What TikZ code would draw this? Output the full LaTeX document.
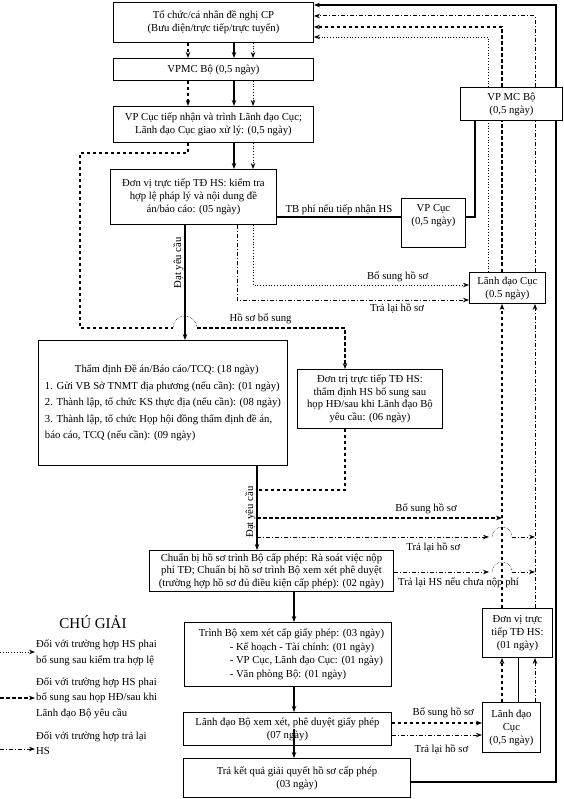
\documentclass[tikz,border=0pt]{standalone}
\usepackage{fontspec}
\setmainfont{Liberation Serif}
\usetikzlibrary{calc,arrows.meta}
\begin{document}
\begin{tikzpicture}[x=1pt,y=1pt]
    \tikzstyle{arrow} = [->,>={Stealth[length=6pt,width=4.5pt]}]
    \tikzstyle{solidline} = [line width=1.2pt]
    \tikzstyle{thinline} = [line width=0.7pt]
    \tikzstyle{dotline} = [dotted, line width=0.8pt]
    \tikzstyle{dashline} = [dash pattern=on 3.5pt off 2.5pt, line width=1.1pt]
    \tikzstyle{dotdash} = [dash pattern=on 4pt off 2pt on 1pt off 2pt, line width=1pt]
    \tikzstyle{hop} = [densely dotted, line width=0.5pt]
    \tikzstyle{rec} = [rectangle, draw=black, line width=0.9pt, align=center,
        inner sep=2pt, font=\fontsize{10.7}{13}\selectfont, fill=white]
    \tikzstyle{lbl} = [font=\fontsize{10.7}{12}\selectfont, inner sep=1pt]

    \useasboundingbox (0,0) rectangle (563,-799);

    % lanes
    \coordinate (xL) at (80,0);
    \coordinate (xS2) at (185,0);
    \coordinate (xD) at (188,0);
    \coordinate (xS) at (234,0);
    \coordinate (xA) at (237,0);
    \coordinate (xT) at (253,0);
    \coordinate (xM) at (257,0);
    \coordinate (xN) at (294,0);
    \coordinate (xB) at (345,0);
    \coordinate (xV) at (475,0);
    \coordinate (xRT) at (488,0);
    \coordinate (xRD) at (502,0);
    \coordinate (xMid) at (518,0);
    \coordinate (xRA) at (535,0);
    \coordinate (xRS) at (556,0);
    \coordinate (yS) at (0,-5);
    \coordinate (yA) at (0,-16);
    \coordinate (yD) at (0,-27);
    \coordinate (yT) at (0,-37);
    \coordinate (yL1) at (0,-153);
    \coordinate (yTB) at (0,-217);
    \coordinate (yBS1) at (0,-285);
    \coordinate (yTL1) at (0,-300);
    \coordinate (yH) at (0,-328);
    \coordinate (yB2) at (0,-490);
    \coordinate (yBS2) at (0,-518);
    \coordinate (yTL2) at (0,-537);
    \coordinate (yNP) at (0,-572);
    \coordinate (yBS3) at (0,-723);
    \coordinate (yTL3) at (0,-735);
    \coordinate (yKQ) at (0,-782);

    \node(tochuc) [rec, minimum width=200pt, minimum height=40pt]
        at (113,-2) [anchor=north west]
        {Tổ chức/cá nhân đề nghị CP\\(Bưu điện/trực tiếp/trực tuyến)};

    \node(vpmc) [rec, minimum width=200pt, minimum height=22pt]
        at (113,-58) [anchor=north west]
        {VPMC Bộ (0,5 ngày)};

    \node(vpcuc) [rec, minimum width=200pt, minimum height=36pt]
        at (113,-106) [anchor=north west]
        {VP Cục tiếp nhận và trình Lãnh đạo Cục;\\Lãnh đạo Cục giao xử lý: (0,5 ngày)};

    \node(kiemtra) [rec, minimum width=166pt, minimum height=55pt]
        at (110,-169) [anchor=north west]
        {Đơn vị trực tiếp TĐ HS: kiểm tra\\hợp lệ pháp lý và nội dung đề\\án/báo cáo: (05 ngày)};

    \node(vpcucphi) [rec, minimum width=64pt, minimum height=49pt]
        at (401,-198) [anchor=north west]
        {VP Cục\\(0,5 ngày)\\ \strut};

    \node(vpmcbo) [rec, minimum width=102pt, minimum height=33pt]
        at (460,-87) [anchor=north west]
        {VP MC Bộ\\(0,5 ngày)};

    \node(ldc1) [rec, minimum width=76pt, minimum height=31pt]
        at (469,-272) [anchor=north west]
        {Lãnh đạo Cục\\(0.5 ngày)};

    \node(thamdinh) [rec, align=left, minimum width=249pt, minimum height=125pt,
        font=\fontsize{10.7}{16.5}\selectfont]
        at (38,-340) [anchor=north west]
        {\hspace*{30pt}Thẩm định Đề án/Báo cáo/TCQ: (18 ngày)\\
         1. Gửi VB Sở TNMT địa phương (nếu cần): (01 ngày)\\
         2. Thành lập, tổ chức KS thực địa (nếu cần): (08 ngày)\\
         3. Thành lập, tổ chức Họp hội đồng thẩm định đề án,\\
         báo cáo, TCQ (nếu cần): (09 ngày)};

    \node(bosung) [rec, minimum width=145pt, minimum height=59pt,
        font=\fontsize{10.7}{12.5}\selectfont]
        at (297,-369) [anchor=north west]
        {Đơn trị trực tiếp TĐ HS:\\thẩm định HS bổ sung sau\\họp HĐ/sau khi Lãnh đạo Bộ\\yêu cầu: (06 ngày)};

    \node(chuanbi) [rec, minimum width=244pt, minimum height=41pt,
        font=\fontsize{10.7}{12.5}\selectfont]
        at (149,-550) [anchor=north west]
        {Chuẩn bị hồ sơ trình Bộ cấp phép: Rà soát việc nộp\\
         phí TĐ; Chuẩn bị hồ sơ trình Bộ xem xét phê duyệt\\
         (trường hợp hồ sơ đủ điều kiện cấp phép): (02 ngày)};

    \node(trinhbo) [rec, align=left, minimum width=207pt, minimum height=64pt,
        font=\fontsize{10.7}{13.5}\selectfont]
        at (184,-622) [anchor=north west]
        {\hspace*{7pt}Trình Bộ xem xét cấp giấy phép: (03 ngày)\\
         \hspace*{38pt}- Kế hoạch - Tài chính: (01 ngày)\\
         \hspace*{38pt}- VP Cục, Lãnh đạo Cục: (01 ngày)\\
         \hspace*{38pt}- Văn phòng Bộ: (01 ngày)};

    \node(ldbo) [rec, minimum width=208pt, minimum height=33pt]
        at (183,-712) [anchor=north west]
        {Lãnh đạo Bộ xem xét, phê duyệt giấy phép\\(07 ngày)};

    \node(traketqua) [rec, minimum width=227pt, minimum height=39pt]
        at (183,-758) [anchor=north west]
        {Trả kết quả giải quyết hồ sơ cấp phép\\(03 ngày)};

    \node(dvtt) [rec, minimum width=70pt, minimum height=49pt]
        at (482,-608) [anchor=north west]
        {Đơn vị trực\\tiếp TĐ HS:\\(01 ngày)};

    \node(ldc2) [rec, minimum width=58pt, minimum height=50pt]
        at (482,-702) [anchor=north west]
        {Lãnh đạo\\Cục\\(0,5 ngày)};

    % legend
    \node(chugiai) [font=\fontsize{15}{18}\selectfont] at (93,-622) {CHÚ GIẢI};
    \node(leg1) [lbl, align=left, anchor=west, font=\fontsize{10.7}{15.5}\selectfont]
        at (35,-653) {Đối với trường hợp HS phai\\bổ sung sau kiểm tra hợp lệ};
    \node(leg2) [lbl, align=left, anchor=west, font=\fontsize{10.7}{15.5}\selectfont]
        at (35,-698) {Đối với trường hợp HS phai\\bổ sung sau họp HĐ/sau khi\\Lãnh đạo Bộ yêu cầu};
    \node(leg3) [lbl, align=left, anchor=west, font=\fontsize{10.7}{15.5}\selectfont]
        at (35,-743) {Đối với trường hợp trả lại\\HS};
    \coordinate (lg1) at (0,-652);
    \coordinate (lg2) at (0,-698);
    \coordinate (lg3) at (0,-749);
    \draw[dotline,arrow] (lg1) -- (leg1.west |- lg1);
    \draw[dashline,arrow] (lg2) -- (leg2.west |- lg2);
    \draw[dotdash,arrow] (lg3) -- (leg3.west |- lg3);

    % main column
    \draw[dashline,arrow] (tochuc.south -| xD) -- (vpmc.north -| xD);
    \draw[solidline,arrow] (tochuc.south -| xS) -- (vpmc.north -| xS);
    \draw[dotline,arrow] (tochuc.south -| xT) -- (vpmc.north -| xT);
    \draw[dashline,arrow] (vpmc.south -| xD) -- (vpcuc.north -| xD);
    \draw[solidline,arrow] (vpmc.south -| xS) -- (vpcuc.north -| xS);
    \draw[dotline,arrow] (vpmc.south -| xT) -- (vpcuc.north -| xT);
    \draw[solidline,arrow] (vpcuc.south -| xS) -- (kiemtra.north -| xS);
    \draw[dotline,arrow] (vpcuc.south -| xT) -- (kiemtra.north -| xT);
    \draw[solidline,arrow] (kiemtra.south -| xS2) --
        node[lbl, rotate=90, above, pos=0.33] {Đạt yêu cầu} (thamdinh.north -| xS2);
    \draw[solidline,arrow] (thamdinh.south -| xM) --
        node[lbl, rotate=90, above, pos=0.55] {Đạt yêu cầu} (chuanbi.north -| xM);
    \draw[solidline,arrow] (chuanbi.south -| xN) -- (trinhbo.north -| xN);
    \draw[solidline,arrow] (trinhbo.south -| xN) -- (ldbo.north -| xN);
    \draw[solidline,arrow] (ldbo.center -| xN) -- (traketqua.north -| xN);

    % ho so bo sung
    \draw[dashline] (vpcuc.south -| xD) -- (xD |- yL1) -- (xL |- yL1) -- (xL |- yH)
        -- ($(xS2 |- yH)+(-12,0)$);
    \draw[hop] ($(xS2 |- yH)+(-12,0)$) arc[start angle=180, end angle=0, radius=12pt];
    \draw[dashline,arrow] ($(xS2 |- yH)+(12,0)$) --
        node[lbl, above=3pt, pos=0.43] {Hồ sơ bổ sung} (xB |- yH) -- (bosung.north -| xB);
    \draw[dashline] (bosung.south -| xB) -- (xB |- yB2) -- (xM |- yB2);

    % kiem tra -> lanh dao cuc
    \draw[dotline,arrow] (kiemtra.south -| xT) -- (xT |- yBS1) --
        node[lbl, above=2pt, pos=0.67] {Bổ sung hồ sơ} (ldc1.west |- yBS1);
    \draw[dotdash,arrow] (kiemtra.south -| xA) -- (xA |- yTL1) --
        node[lbl, below=2pt, pos=0.69] {Trả lại hồ sơ} (ldc1.west |- yTL1);
    \draw[solidline] (kiemtra.east |- yTB) --
        node[lbl, above=1pt] {TB phí nếu tiếp nhận HS} (vpcucphi.west |- yTB);
    \draw[solidline] (vpcucphi.east |- yTB) -- (xV |- yTB) -- (vpmcbo.south -| xV);

    % right side
    \draw[dotline] (ldc1.north -| xRT) -- (vpmcbo.south -| xRT);
    \draw[dashline] (ldc1.north -| xRD) -- (vpmcbo.south -| xRD);
    \draw[dotdash] (ldc1.north -| xRA) -- (vpmcbo.south -| xRA);
    \draw[dotline,arrow] (vpmcbo.north -| xRT) -- (xRT |- yT) -- (tochuc.east |- yT);
    \draw[dashline,arrow] (vpmcbo.north -| xRD) -- (xRD |- yD) -- (tochuc.east |- yD);
    \draw[dotdash,arrow] (vpmcbo.north -| xRA) -- (xRA |- yA) -- (tochuc.east |- yA);
    \draw[solidline,arrow] (vpmcbo.north -| xRS) -- (xRS |- yS) -- (tochuc.east |- yS);
    \draw[dashline,arrow] (dvtt.north -| xRD) -- (ldc1.south -| xRD);
    \draw[dotdash,arrow] (dvtt.north -| xRA) -- (ldc1.south -| xRA);
    \draw[dashline,arrow] (ldc2.north -| xRD) -- (dvtt.south -| xRD);
    \draw[thinline] (ldc2.north -| xMid) -- (dvtt.south -| xMid);
    \draw[dotdash,arrow] (ldc2.north -| xRA) -- (dvtt.south -| xRA);
    \draw[solidline] (traketqua.east |- yKQ) -- (xRS |- yKQ) -- (vpmcbo.south -| xRS);

    % lower returns
    \draw[dashline,arrow] (xM |- yBS2) --
        node[lbl, above=3pt, pos=0.69] {Bổ sung hồ sơ} (xRD |- yBS2);
    \draw[dotdash,arrow] (xM |- yTL2) --
        node[lbl, below=4pt, pos=0.76] {Trả lại hồ sơ} ($(xRD |- yTL2)+(-13,0)$);
    \draw[hop] ($(xRD |- yTL2)+(-10,0)$) arc[start angle=180, end angle=0, radius=10pt];
    \draw[dotdash,arrow] ($(xRD |- yTL2)+(10,0)$) -- (xRA |- yTL2);
    \draw[dotdash,arrow] (chuanbi.east |- yNP) --
        node[lbl, below=4pt, pos=0.68] {Trả lại HS nếu chưa nộp phí} ($(xRD |- yNP)+(-13,0)$);
    \draw[hop] ($(xRD |- yNP)+(-10,0)$) arc[start angle=180, end angle=0, radius=10pt];
    \draw[dotdash,arrow] ($(xRD |- yNP)+(10,0)$) -- (xRA |- yNP);
    \draw[dashline,arrow] (ldbo.east |- yBS3) --
        node[lbl, above=4pt, pos=0.57] {Bổ sung hồ sơ} (ldc2.west |- yBS3);
    \draw[dotdash,arrow] (ldbo.east |- yTL3) --
        node[lbl, below=8pt, pos=0.55] {Trả lại hồ sơ} (ldc2.west |- yTL3);
\end{tikzpicture}
\end{document}
